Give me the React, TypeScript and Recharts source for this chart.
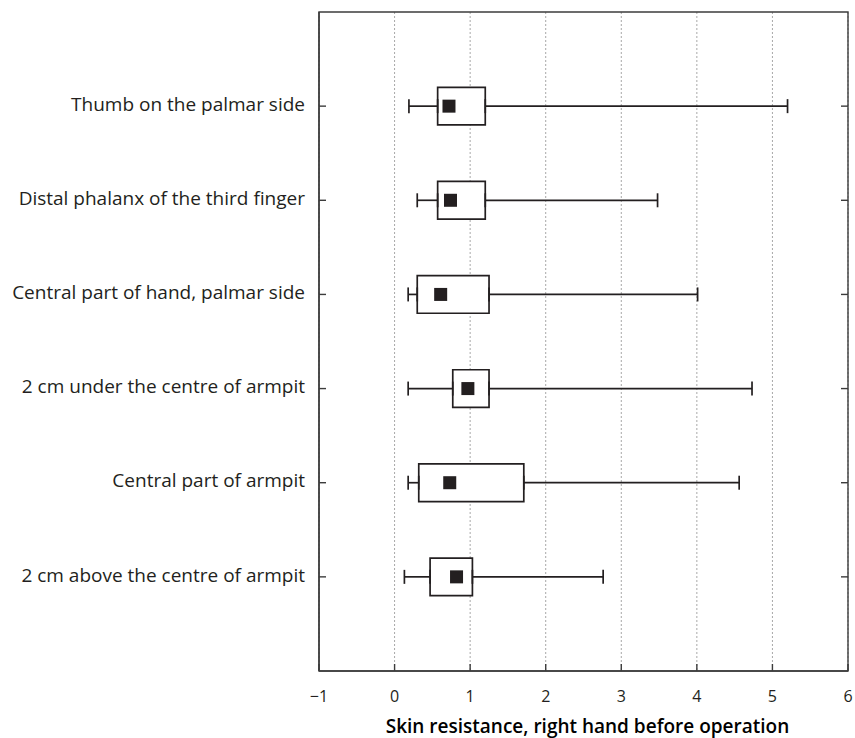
import { CartesianGrid, ErrorBar, ReferenceArea, Scatter, ScatterChart, XAxis, YAxis, Label } from 'recharts';

const sites = [
  'Thumb on the palmar side',
  'Distal phalanx of the third finger',
  'Central part of hand, palmar side',
  '2 cm under the centre of armpit',
  'Central part of armpit',
  '2 cm above the centre of armpit',
];
const mins = [0.19, 0.3, 0.18, 0.18, 0.18, 0.13];
const q1s = [0.57, 0.57, 0.3, 0.77, 0.32, 0.47];
const medians = [0.72, 0.74, 0.61, 0.97, 0.73, 0.82];
const q3s = [1.2, 1.2, 1.25, 1.25, 1.71, 1.03];
const maxs = [5.2, 3.48, 4.01, 4.73, 4.56, 2.76];
const xTicks = [-1, 0, 1, 2, 3, 4, 5, 6];
const rowTicks = [1, 2, 3, 4, 5, 6];

const ink = '#231f20';
const frame = '#3c3c3c';

const lowerWhiskers = sites.map((_, i) => ({ x: q1s[i], y: i + 1, err: [q1s[i] - mins[i], 0] }));
const upperWhiskers = sites.map((_, i) => ({ x: q3s[i], y: i + 1, err: [0, maxs[i] - q3s[i]] }));
const medianPoints = sites.map((_, i) => ({ x: medians[i], y: i + 1 }));

const Hidden = () => <g />;
const MedianSquare = (p: any) => <rect x={p.cx - 6.5} y={p.cy - 6.5} width={13} height={13} fill={ink} />;
// inward tick marks for the top and right edges of the frame
const TopTick = (p: any) => <line x1={p.x} y1={p.y} x2={p.x} y2={p.y + 7} stroke={frame} strokeWidth={1.4} />;
const RightTick = (p: any) => <line x1={p.x - 7} y1={p.y} x2={p.x} y2={p.y} stroke={frame} strokeWidth={1.4} />;

const fmtX = (v: number) => (v < 0 ? `\u2212${-v}` : `${v}`);

const lineStyle = { stroke: frame, strokeWidth: 1.4 };

export default function App() {
  return (
    <div style={{ position: 'absolute', left: 0, top: 0, fontFamily: "'Open Sans', sans-serif" }}>
      <ScatterChart width={855} height={738} margin={{ top: 12, right: 0, bottom: 0, left: 0 }}>
        <CartesianGrid xAxisId="bottom" yAxisId="left" horizontal={false} stroke="#a8a8a8" strokeDasharray="2 2" />
        <XAxis
          xAxisId="bottom"
          type="number"
          dataKey="x"
          domain={[-1, 6]}
          ticks={xTicks}
          tickFormatter={fmtX}
          height={67}
          tickSize={-7}
          tickMargin={27}
          axisLine={lineStyle}
          tickLine={lineStyle}
          tick={{ fill: ink, fontSize: 16 }}
        >
          <Label
            value="Skin resistance, right hand before operation"
            position="insideBottom"
            offset={5}
            dx={4}
            fill="#000"
            fontSize={19}
            fontWeight={600}
          />
        </XAxis>
        <XAxis
          xAxisId="top"
          orientation="top"
          type="number"
          dataKey="x"
          domain={[-1, 6]}
          ticks={xTicks}
          height={0}
          tickSize={0}
          tickMargin={0}
          tick={TopTick}
          axisLine={false}
          tickLine={false}
        />
        <YAxis
          yAxisId="left"
          type="number"
          dataKey="y"
          domain={[0, 7]}
          reversed
          ticks={rowTicks}
          tickFormatter={(v: number) => sites[v - 1] ?? ''}
          width={319}
          tickSize={-7}
          tickMargin={21}
          axisLine={lineStyle}
          tickLine={lineStyle}
          tick={{ fill: ink, fontSize: 19, dy: -2 }}
        />
        <YAxis
          yAxisId="right"
          orientation="right"
          type="number"
          dataKey="y"
          domain={[0, 7]}
          reversed
          ticks={rowTicks}
          width={7}
          tickSize={0}
          tickMargin={0}
          tick={RightTick}
          axisLine={false}
          tickLine={false}
        />
        <ReferenceArea
          xAxisId="bottom"
          yAxisId="left"
          x1={-1}
          x2={6}
          y1={0}
          y2={7}
          fill="none"
          stroke={frame}
          strokeWidth={1.4}
        />
        {sites.map((s, i) => (
          <ReferenceArea
            key={s}
            xAxisId="bottom"
            yAxisId="left"
            x1={q1s[i]}
            x2={q3s[i]}
            y1={i + 1 - 0.2}
            y2={i + 1 + 0.2}
            fill="#fff"
            fillOpacity={1}
            stroke={ink}
            strokeWidth={1.7}
          />
        ))}
        <Scatter data={lowerWhiskers} xAxisId="bottom" yAxisId="left" shape={Hidden} isAnimationActive={false}>
          <ErrorBar dataKey="err" direction="x" width={7} stroke={ink} strokeWidth={1.7} />
        </Scatter>
        <Scatter data={upperWhiskers} xAxisId="bottom" yAxisId="left" shape={Hidden} isAnimationActive={false}>
          <ErrorBar dataKey="err" direction="x" width={7} stroke={ink} strokeWidth={1.7} />
        </Scatter>
        <Scatter data={medianPoints} xAxisId="bottom" yAxisId="left" shape={MedianSquare} isAnimationActive={false} />
        <Scatter data={medianPoints} xAxisId="top" yAxisId="right" shape={Hidden} isAnimationActive={false} />
      </ScatterChart>
    </div>
  );
}
